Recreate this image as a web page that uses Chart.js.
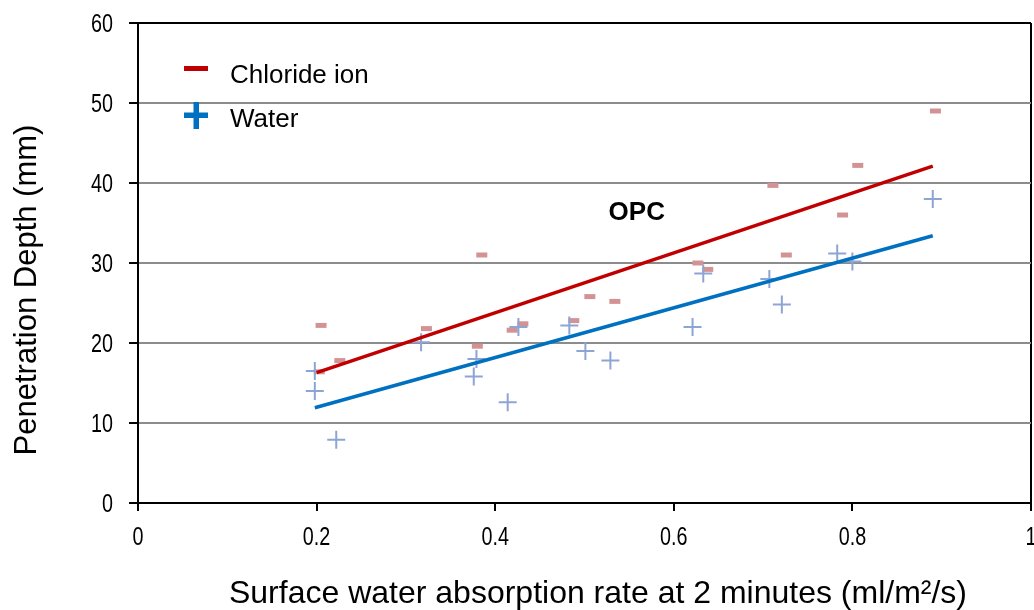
<!DOCTYPE html>
<html>
<head>
<meta charset="utf-8">
<script src="https://cdn.jsdelivr.net/npm/chart.js@4.4.1/dist/chart.umd.min.js"></script>
<style>
html,body{margin:0;padding:0;background:#fff;}
#c{display:block;}
</style>
</head>
<body>
<canvas id="c" width="1034" height="610"></canvas>
<script>
// ---- Data ----
const chlorideX = [0.205,0.203,0.226,0.323,0.385,0.380,0.419,0.431,0.488,0.506,0.534,0.627,0.638,0.711,0.726,0.789,0.806,0.893];
const chlorideY = [22.2,16.4,17.8,21.8,31.0,19.6,21.6,22.4,22.8,25.8,25.2,30.0,29.2,39.7,31.0,36.0,42.2,49.0];
const waterX = [0.198,0.198,0.222,0.317,0.379,0.376,0.414,0.426,0.483,0.501,0.529,0.621,0.633,0.707,0.721,0.783,0.800,0.890];
const waterY = [16.5,14.0,7.9,20.1,18.0,15.8,12.6,22.0,22.2,19.0,17.8,22.0,28.7,28.0,24.8,31.2,30.2,38.0];
// trend line end points (as drawn in the picture)
const chlorideTrendX = [0.200,0.890];
const chlorideTrendY = [16.3,42.1];
const waterTrendX = [0.198,0.890];
const waterTrendY = [11.9,33.4];
const xTicks = [0,0.2,0.4,0.6,0.8,1];
const xTickLabels = ['0','0.2','0.4','0.6','0.8','1'];
const yTicks = [0,10,20,30,40,50,60];
const yTickLabels = ['0','10','20','30','40','50','60'];
const seriesNames = ['Chloride ion','Water'];
const xTitle = 'Surface water absorption rate at 2 minutes (ml/m\u00B2/s)';
const yTitle = 'Penetration Depth (mm)';
const annotationText = 'OPC';

const pts = (xs, ys) => xs.map((x, i) => ({x: x, y: ys[i]}));

const SANS = "'Liberation Sans',Arial,sans-serif";

const overlay = {
  id: 'overlay',
  afterDraw(chart) {
    const ctx = chart.ctx;
    const xs = chart.scales.x, ys = chart.scales.y;
    const SQ = 0.76; // condensed tick font
    ctx.save();
    ctx.fillStyle = '#000';
    ctx.font = '26px ' + SANS;
    ctx.textBaseline = 'alphabetic';
    // x tick labels
    ctx.textAlign = 'center';
    xTicks.forEach((v, i) => {
      const px = xs.getPixelForValue(v);
      ctx.save();
      ctx.translate(px, 545);
      ctx.scale(SQ, 1);
      ctx.fillText(xTickLabels[i], 0, 0);
      ctx.restore();
    });
    // y tick labels
    ctx.textAlign = 'right';
    yTicks.forEach((v, i) => {
      const py = ys.getPixelForValue(v);
      ctx.save();
      ctx.translate(113, py + 9);
      ctx.scale(SQ, 1);
      ctx.fillText(yTickLabels[i], 0, 0);
      ctx.restore();
    });
    // legend
    ctx.fillStyle = '#C00000';
    ctx.fillRect(184, 66, 24, 5);
    ctx.fillStyle = '#0070C0';
    ctx.fillRect(184, 112.5, 24, 5.5);
    ctx.fillRect(193.5, 102, 5.5, 27);
    ctx.fillStyle = '#000';
    ctx.font = '26px ' + SANS;
    ctx.textAlign = 'left';
    ctx.fillText(seriesNames[0], 230, 83.3);
    ctx.fillText(seriesNames[1], 230, 126.7);
    // OPC label
    ctx.font = 'bold 26px ' + SANS;
    ctx.textAlign = 'center';
    ctx.textBaseline = 'middle';
    ctx.fillText(annotationText, xs.getPixelForValue(0.5585), ys.getPixelForValue(36.3));
    // axis titles
    ctx.font = '32px ' + SANS;
    ctx.fillText(xTitle, 598, 594);
    ctx.save();
    ctx.translate(27, 290);
    ctx.rotate(-Math.PI / 2);
    ctx.font = '31px ' + SANS;
    ctx.fillText(yTitle, 0, 0);
    ctx.restore();
    ctx.restore();
  }
};

new Chart(document.getElementById('c'), {
  type: 'scatter',
  data: {
    datasets: [
      {
        label: seriesNames[0] + ' fit', type: 'line', data: pts(chlorideTrendX, chlorideTrendY),
        borderColor: '#C00000', borderWidth: 3.5, pointRadius: 0, fill: false, order: 0, tension: 0
      },
      {
        label: seriesNames[1] + ' fit', type: 'line', data: pts(waterTrendX, waterTrendY),
        borderColor: '#0070C0', borderWidth: 3.5, pointRadius: 0, fill: false, order: 0, tension: 0
      },
      {
        label: seriesNames[0], data: pts(chlorideX, chlorideY),
        pointStyle: 'line', pointRadius: 5.5, pointHoverRadius: 5.5,
        pointBorderWidth: 5, borderColor: '#D39394', backgroundColor: '#D39394', order: 2
      },
      {
        label: seriesNames[1], data: pts(waterX, waterY),
        pointStyle: 'cross', pointRadius: 9, pointHoverRadius: 9,
        pointBorderWidth: 2, borderColor: '#8DA5D3', backgroundColor: '#8DA5D3', order: 1
      }
    ]
  },
  options: {
    responsive: false,
    animation: false,
    events: [],
    layout: { autoPadding: false, padding: { left: 0, top: 23, right: 3, bottom: 0 } },
    plugins: { legend: { display: false }, tooltip: { enabled: false }, title: { display: false } },
    scales: {
      x: {
        type: 'linear', min: 0, max: 1,
        afterBuildTicks: s => { s.ticks = xTicks.map(v => ({value: v})); },
        afterFit: s => { s.height = 107; },
        ticks: { display: false },
        grid: {
          color: c => (c.tick && c.tick.value === 1) ? '#000' : 'rgba(0,0,0,0)',
          lineWidth: 2, tickColor: '#000', tickLength: 8, tickWidth: 2, drawOnChartArea: true
        },
        border: { display: true, color: '#000', width: 2 }
      },
      y: {
        type: 'linear', min: 0, max: 60,
        afterBuildTicks: s => { s.ticks = yTicks.map(v => ({value: v})); },
        afterFit: s => { s.width = 138; },
        ticks: { display: false },
        grid: {
          color: c => {
            if (!c.tick) return 'rgba(0,0,0,0)';
            if (c.tick.value === 60) return '#000';
            if (c.tick.value === 0) return 'rgba(0,0,0,0)';
            return '#8C8C8C';
          },
          lineWidth: 2, tickColor: '#000', tickLength: 9, tickWidth: 2
        },
        border: { display: true, color: '#000', width: 2 }
      }
    }
  },
  plugins: [overlay]
});
</script>
</body>
</html>
